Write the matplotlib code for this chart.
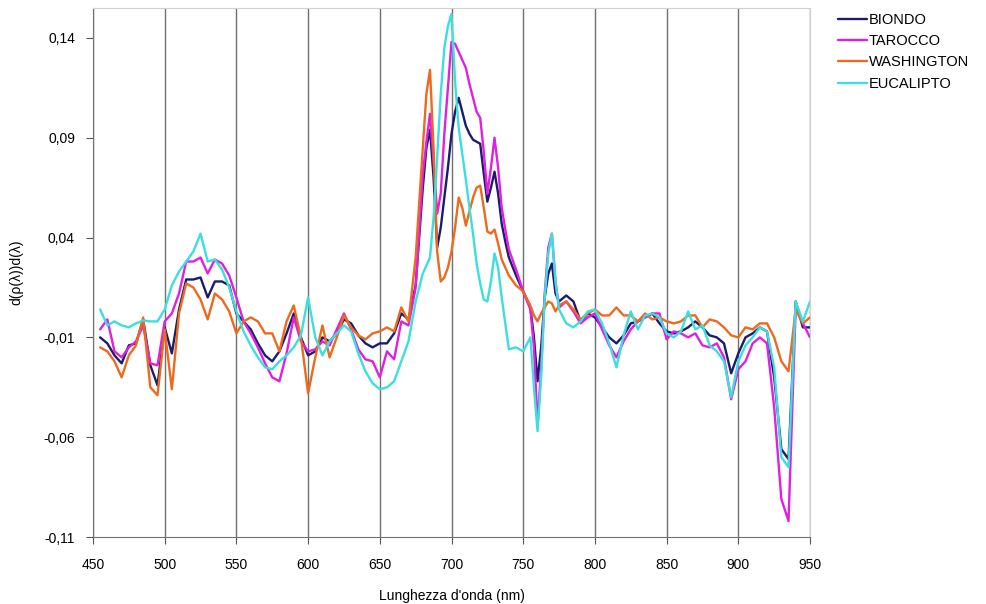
import numpy as np
import matplotlib
matplotlib.use('Agg')
import matplotlib.pyplot as plt
from matplotlib.ticker import FuncFormatter

plt.rcParams['font.family'] = ['Liberation Sans', 'DejaVu Sans']

# Lunghezze d'onda (nm): passo 5, piu' fitto (2,5) dove le curve cambiano in fretta
lunghezze = ([455 + 5 * i for i in range(45)]
             + [680 + 2.5 * i for i in range(25)]
             + [745, 750, 755, 757.5, 760, 762.5, 765, 767.5, 770, 772.5, 775]
             + [780 + 5 * i for i in range(35)])

biondo = [
    -0.010, -0.013, -0.019, -0.023, -0.014, -0.013, -0.001, -0.024, -0.034, -0.005,
    -0.018, 0.004, 0.019, 0.019, 0.020, 0.010, 0.018, 0.018, 0.016, 0.002,
    -0.002, -0.006, -0.013, -0.019, -0.022, -0.017, -0.008, 0.002, -0.010, -0.019,
    -0.017, -0.010, -0.012, -0.008, -0.001, -0.003, -0.009, -0.013, -0.015, -0.013,
    -0.013, -0.008, 0.002, -0.001, 0.016,
    # 680 - 740
    0.065, 0.085, 0.094, 0.070, 0.035, 0.045, 0.060, 0.075, 0.092, 0.103,
    0.110, 0.103, 0.096, 0.092, 0.089, 0.088, 0.087, 0.072, 0.058, 0.065,
    0.073, 0.062, 0.047, 0.038, 0.030,
    # 745 - 775
    0.021, 0.013, 0.005, -0.010, -0.032, -0.015, 0.010, 0.022, 0.027, 0.012, 0.008,
    # 780 - 950
    0.011, 0.008, -0.002, 0.002, 0.000, -0.005, -0.010, -0.013, -0.009, -0.003,
    -0.002, 0.000, 0.002, -0.003, -0.007, -0.008, -0.007, -0.005, -0.002, -0.005,
    -0.009, -0.010, -0.013, -0.028, -0.018, -0.010, -0.008, -0.005, -0.007, -0.030,
    -0.066, -0.071, 0.008, -0.005, -0.005,
]

tarocco = [
    -0.006, -0.001, -0.017, -0.020, -0.015, -0.012, -0.004, -0.023, -0.024, -0.002,
    0.002, 0.012, 0.028, 0.028, 0.030, 0.022, 0.029, 0.027, 0.021, 0.010,
    -0.002, -0.008, -0.015, -0.023, -0.030, -0.032, -0.018, 0.000, -0.012, -0.017,
    -0.016, -0.012, -0.014, -0.006, 0.002, -0.006, -0.016, -0.021, -0.022, -0.030,
    -0.017, -0.021, -0.002, -0.004, 0.015,
    # 680 - 740
    0.072, 0.088, 0.102, 0.078, 0.052, 0.062, 0.092, 0.115, 0.138, 0.137,
    0.133, 0.129, 0.125, 0.117, 0.110, 0.103, 0.100, 0.083, 0.062, 0.075,
    0.090, 0.075, 0.055, 0.044, 0.034,
    # 745 - 775
    0.024, 0.013, 0.004, -0.015, -0.054, -0.025, 0.012, 0.035, 0.042, 0.018, 0.005,
    # 780 - 950
    0.008, 0.003, -0.003, 0.000, 0.002, -0.006, -0.014, -0.020, -0.012, -0.006,
    -0.002, 0.000, 0.002, 0.002, -0.011, -0.007, -0.008, -0.010, -0.008, -0.014,
    -0.015, -0.013, -0.020, -0.041, -0.026, -0.022, -0.013, -0.010, -0.013, -0.045,
    -0.091, -0.102, 0.005, -0.003, -0.010,
]

washington = [
    -0.015, -0.017, -0.022, -0.030, -0.019, -0.014, 0.000, -0.035, -0.039, -0.006,
    -0.036, 0.002, 0.017, 0.015, 0.009, -0.001, 0.012, 0.009, 0.003, -0.008,
    -0.002, 0.000, -0.002, -0.008, -0.008, -0.017, -0.002, 0.006, -0.010, -0.038,
    -0.020, -0.004, -0.020, -0.010, 0.001, -0.005, -0.009, -0.011, -0.008, -0.007,
    -0.005, -0.007, 0.005, -0.002, 0.030,
    # 680 - 740
    0.085, 0.112, 0.124, 0.085, 0.033, 0.018, 0.020, 0.025, 0.033, 0.045,
    0.060, 0.055, 0.046, 0.053, 0.060, 0.065, 0.066, 0.055, 0.043, 0.042,
    0.044, 0.037, 0.029, 0.025, 0.021,
    # 745 - 775
    0.016, 0.013, 0.006, 0.001, -0.002, 0.002, 0.005, 0.008, 0.007, 0.003, 0.006,
    # 780 - 950
    0.008, 0.004, -0.001, 0.002, 0.004, 0.001, 0.001, 0.005, 0.001, 0.001,
    -0.002, 0.002, -0.001, 0.000, -0.002, -0.003, -0.002, 0.001, 0.001, -0.005,
    -0.001, -0.002, -0.005, -0.009, -0.010, -0.005, -0.006, -0.003, -0.003, -0.010,
    -0.022, -0.027, 0.004, -0.003, 0.000,
]

eucalipto = [
    0.004, -0.004, -0.002, -0.004, -0.005, -0.003, -0.0015, -0.002, -0.002, 0.004,
    0.016, 0.023, 0.028, 0.033, 0.042, 0.028, 0.029, 0.024, 0.015, 0.003,
    -0.007, -0.014, -0.020, -0.025, -0.026, -0.022, -0.019, -0.015, -0.009, 0.010,
    -0.010, -0.019, -0.012, -0.008, -0.004, -0.007, -0.018, -0.027, -0.033, -0.036,
    -0.035, -0.032, -0.022, -0.012, 0.008,
    # 680 - 740
    0.022, 0.026, 0.030, 0.050, 0.080, 0.112, 0.135, 0.146, 0.152, 0.118,
    0.095, 0.082, 0.069, 0.055, 0.042, 0.027, 0.017, 0.009, 0.008, 0.018,
    0.032, 0.025, 0.010, -0.003, -0.016,
    # 745 - 775
    -0.015, -0.017, -0.010, -0.035, -0.057, -0.030, 0.010, 0.032, 0.042, 0.018, 0.004,
    # 780 - 950
    -0.003, -0.005, -0.002, 0.003, 0.004, -0.003, -0.013, -0.025, -0.009, 0.003,
    -0.006, 0.001, 0.002, 0.000, -0.008, -0.010, -0.007, 0.003, -0.006, -0.004,
    -0.014, -0.017, -0.022, -0.040, -0.022, -0.014, -0.010, -0.005, -0.007, -0.025,
    -0.070, -0.075, 0.008, -0.002, 0.008,
]

serie = [
    ('BIONDO', biondo, '#1c1c6e'),
    ('TAROCCO', tarocco, '#e020e0'),
    ('WASHINGTON', washington, '#ec6a1e'),
    ('EUCALIPTO', eucalipto, '#3ddede'),
]

yticks = [-0.11, -0.06, -0.01, 0.04, 0.09, 0.14]
xticks = list(range(450, 951, 50))

fig = plt.figure(figsize=(9.87, 6.04), dpi=100)
ax = fig.add_axes([0.0942, 0.1109, 0.7265, 0.8759])

for nome, valori, colore in serie:
    ax.plot(lunghezze, valori, color=colore, lw=1.7, label=nome,
            solid_joinstyle='round', solid_capstyle='round')

ax.set_xlim(450, 950)
ax.set_ylim(-0.11, 0.155)
ax.set_xticks(xticks)
ax.set_yticks(yticks)
ax.yaxis.set_major_formatter(FuncFormatter(lambda v, p: f'{v:.2f}'.replace('.', ',')))
ax.tick_params(labelsize=10, color='#555555', length=5, direction='out')
ax.tick_params(axis='x', pad=10)
ax.tick_params(axis='y', pad=8)

# griglia verticale
ax.grid(axis='x', color='#707070', lw=1.0)
ax.set_axisbelow(True)
for lato in ['left', 'bottom']:
    ax.spines[lato].set_color('#707070')
for lato in ['top', 'right']:
    ax.spines[lato].set_color('#d0d0d0')

ax.set_xlabel("Lunghezza d'onda (nm)", fontsize=10, labelpad=12)
ax.set_ylabel('d(ρ(λ))d(λ)', fontsize=10, labelpad=14)

ax.legend(loc='upper left', bbox_to_anchor=(1.025, 1.01), frameon=False, fontsize=10.5,
          handlelength=2.0, handletextpad=0.1, labelspacing=0.5, borderaxespad=0.3)

plt.savefig('out.png', dpi=100)
